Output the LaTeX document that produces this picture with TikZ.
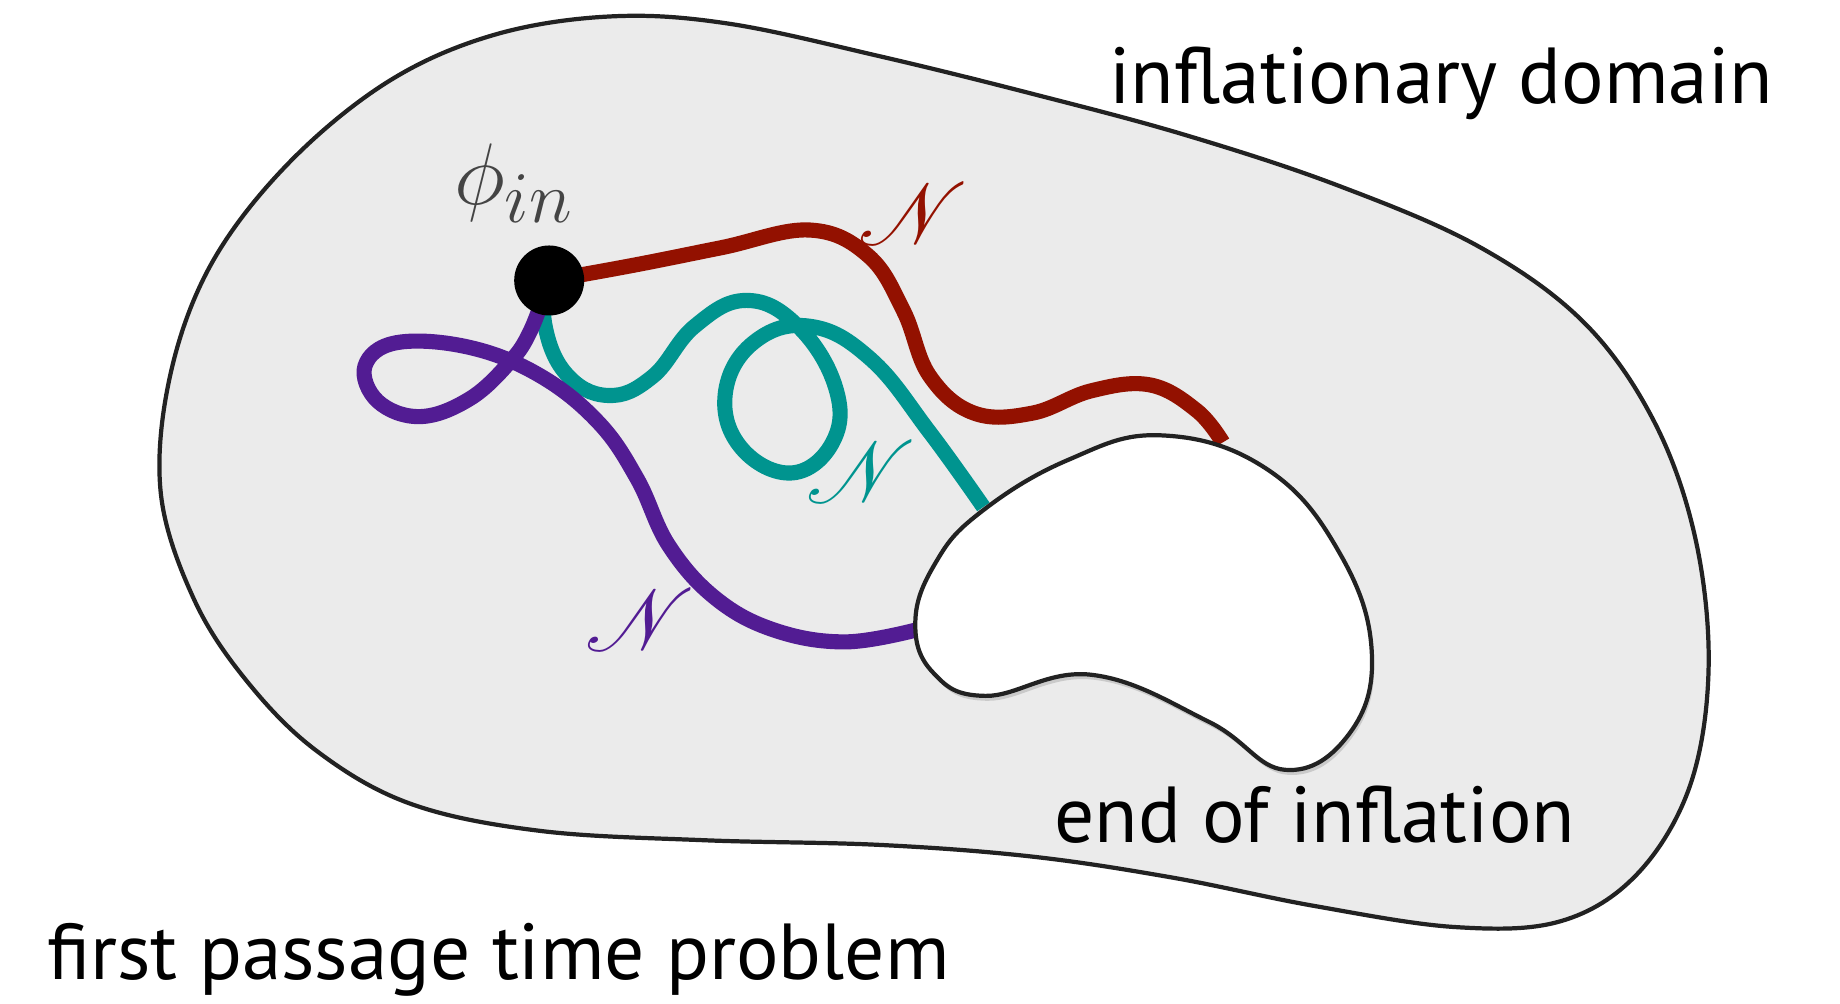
\documentclass[tikz,border=0pt]{standalone}
\usepackage{fontspec}
\setmainfont{PT Sans}
\usepackage{mathrsfs}
\usetikzlibrary{positioning, backgrounds, shadows}

\definecolor{walkred}{HTML}{931100}
\definecolor{walkteal}{HTML}{00948F}
\definecolor{walkpurple}{HTML}{521C93}
\definecolor{regionfill}{HTML}{EBEBEB}
\definecolor{edgegray}{HTML}{222222}
\definecolor{phigray}{HTML}{444444}

\begin{document}
\begin{tikzpicture}[
  x=0.011735cm, y=-0.011735cm,
  infregion/.style={draw=edgegray, line width=1.2pt, fill=regionfill},
  endregion/.style={draw=edgegray, line width=1.2pt, fill=white,
    drop shadow={opacity=0.3, shadow xshift=0.6pt, shadow yshift=-1.4pt}},
  walk/.style={line width=4.3pt, line cap=butt},
  seed/.style={circle, fill=black, minimum size=0.70cm, inner sep=0pt},
  caption/.style={font=\fontsize{22.6}{26}\selectfont, anchor=base west, inner sep=0pt},
  efold/.style={font=\fontsize{24}{24}\selectfont, inner sep=0pt},
]
\useasboundingbox (0,0) rectangle (1568,855);

% initial field value
\node[seed] (phiin) at (468,239) {};
\node[font=\fontsize{30}{30}\selectfont, text=phigray, inner sep=0pt] (philbl) at (438,156) {$\phi_{in}$};

\begin{scope}[on background layer]
% inflationary domain
\draw[infregion] plot[smooth cycle, tension=0.6] coordinates {
  (137,420) (145,320) (180,225) (245,140) (330,70) (420,30) (520,14) (620,20)
  (750,48) (880,80) (1010,115) (1140,158) (1260,210) (1350,275) (1410,360)
  (1445,460) (1456,570) (1440,670) (1395,745) (1330,785) (1240,790)
  (1120,772) (1000,748) (880,730) (750,720) (600,716) (460,708) (350,685)
  (270,640) (210,580) (165,510)};

% stochastic realisations
\draw[walk, walkred] plot[smooth, tension=0.65] coordinates {
  (phiin.center) (540,226) (615,211) (690,196) (740,218) (770,265)
  (792,320) (830,352) (880,352) (930,333) (980,328) (1020,350) (1042,377)};
\draw[walk, walkteal] plot[smooth, tension=0.7] coordinates {
  (phiin.center) (464,275) (482,318) (518,337) (556,321) (592,278)
  (636,256) (680,278) (712,330) (710,376) (675,403) (632,382) (618,336)
  (642,292) (690,278) (742,306) (792,368) (838,432)};
\draw[walk, walkpurple] plot[smooth, tension=0.65] coordinates {
  (phiin.center) (452,282) (434,309) (400,340) (358,355) (322,342)
  (311,312) (338,292) (400,296) (460,320) (510,360) (543,408) (570,465)
  (610,510) (660,537) (720,547) (780,537)};

% end of inflation
\draw[endregion] plot[smooth cycle, tension=0.7] coordinates {
  (780,530) (797,480) (835,437) (910,392) (990,371) (1080,400) (1142,472)
  (1169,556) (1150,625) (1095,656) (1030,615) (930,575) (840,593) (795,573)};
\end{scope}

% number of e-folds
\node[efold, text=walkred] (nred) at (778,182) {$\mathscr{N}$};
\node[efold, text=walkteal] (nteal) at (734,402) {$\mathscr{N}$};
\node[efold, text=walkpurple] (npurple) at (546,528) {$\mathscr{N}$};

% captions
\node[caption] (domlbl) at (945,88) {inflationary domain};
\node[caption] (endlbl) at (898,718) {end of inflation};
\node[caption] (fptlbl) at (40,835) {first passage time problem};

\end{tikzpicture}
\end{document}
